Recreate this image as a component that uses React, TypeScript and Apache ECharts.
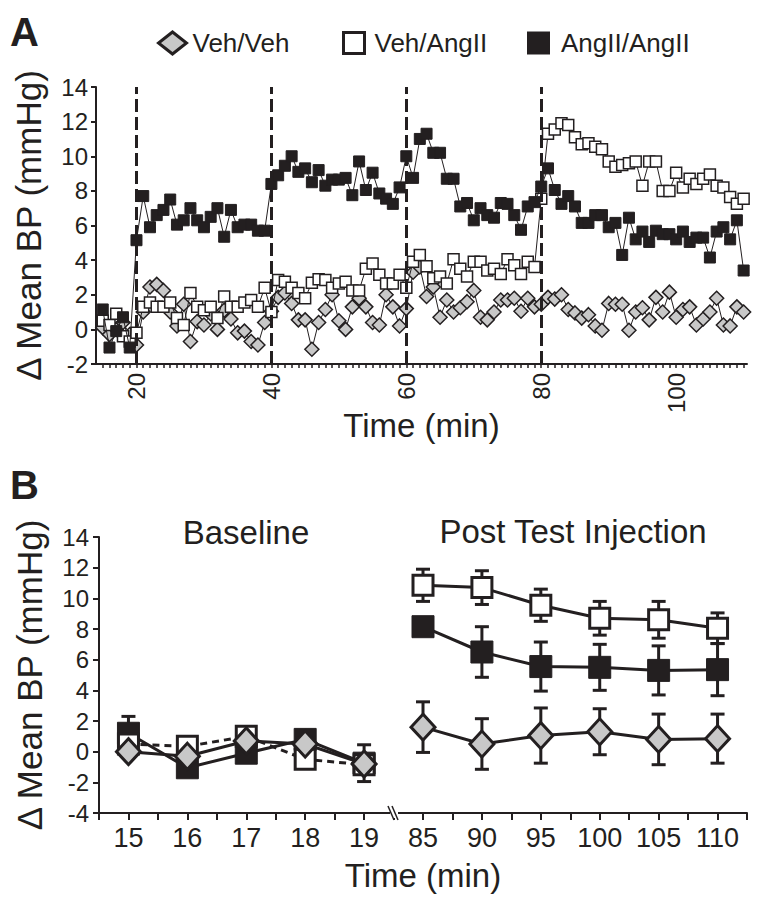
import React, { useEffect, useRef } from 'react';
import * as echarts from 'echarts';

const FONT = '"Liberation Sans", Arial, Helvetica, sans-serif';
const INK = '#231f20';
const GRAY = '#c8c8c8';

const NAME_VV = 'Veh/Veh';
const NAME_VA = 'Veh/AngII';
const NAME_AA = 'AngII/AngII';

// ---------- Panel A: one reading per minute, first reading at minute 15 ----------
const A_FIRST_MINUTE = 15;
const A_VEH_VEH = [
  0.1, -0.3, 0.0, 0.4, -0.3, -0.9, 1.0, 2.45, 2.6, 2.25,
  1.0, 0.2, 1.45, -0.7, 0.45, 0.25, 0.9, 0.0, 1.1, 0.6,
  -0.2, -0.1, -0.7, -0.9, 0.4, 1.05, 1.85, 2.1, 1.5, 0.55,
  0.55, -1.15, 0.4, 1.15, 2.0, 0.5, 0.0, 1.3, 1.8, 1.3,
  0.4, 0.25, 2.0, 1.3, 0.2, 1.2, 3.3, 3.6, 1.9, 2.45,
  0.7, 1.7, 1.0, 1.25, 1.6, 2.25, 0.7, 0.55, 1.0, 1.7,
  1.7, 1.8, 1.05, 1.8, 1.3, 1.45, 1.85, 1.75, 2.0, 1.15,
  0.95, 0.65, 0.85, 0.2, -0.05, 1.5, 1.45, 1.45, -0.05, 1.0,
  1.25, 0.55, 1.85, 1.0, 2.15, 0.7, 1.15, 1.3, 0.25, 0.6,
  1.0, 1.8, 0.25, 0.2, 1.3, 1.0,
];
const A_VEH_ANG = [
  0.5, 0.25, 0.9, -0.4, -0.7, -0.2, 1.3, 1.55, 1.3, 1.3,
  1.55, 0.65, 0.25, 2.1, 1.3, 1.1, 1.3, 0.65, 1.9, 1.3,
  1.3, 1.55, 1.7, 1.3, 2.4, 1.0, 2.85, 2.75, 2.4, 2.1,
  1.8, 2.7, 2.9, 2.85, 2.4, 2.65, 2.75, 2.25, 2.25, 3.5,
  3.8, 3.15, 2.65, 2.65, 3.15, 2.4, 3.9, 4.3, 3.65, 2.95,
  3.05, 2.65, 4.05, 3.5, 3.05, 3.9, 3.9, 3.4, 3.5, 3.2,
  4.05, 3.7, 3.2, 3.9, 3.6, 7.55, 11.3, 11.55, 11.9, 11.8,
  11.1, 10.7, 10.75, 10.55, 10.4, 9.7, 9.4, 9.5, 9.6, 9.7,
  8.3, 9.7, 9.7, 8.0, 8.0, 9.05, 8.2, 8.7, 8.4, 8.7,
  8.95, 8.3, 8.2, 7.65, 7.25, 7.55,
];
const A_ANG_ANG = [
  1.15, -1.05, -0.1, 0.7, -1.05, 5.15, 7.7, 5.9, 6.6, 6.9,
  7.5, 6.05, 6.3, 7.0, 6.3, 5.9, 6.5, 7.0, 5.35, 6.9,
  5.9, 6.05, 6.05, 5.7, 5.7, 8.4, 8.9, 9.45, 10.0, 9.1,
  9.3, 8.5, 9.2, 8.3, 8.65, 8.65, 8.75, 7.75, 9.7, 8.05,
  9.05, 7.85, 7.55, 7.25, 8.2, 10.0, 8.75, 11.0, 11.3, 10.2,
  10.2, 8.7, 8.7, 7.1, 7.3, 6.3, 7.0, 6.6, 6.45, 7.3,
  7.25, 6.6, 5.75, 7.1, 7.35, 8.25, 9.3, 8.05, 7.25, 7.7,
  7.1, 6.15, 6.15, 6.6, 6.6, 5.9, 6.15, 4.3, 6.45, 5.2,
  5.65, 5.05, 5.7, 5.5, 5.5, 5.2, 5.65, 5.05, 5.3, 5.3,
  4.15, 5.65, 5.9, 5.2, 6.3, 3.4,
];
const A_INJECTION_MINUTES = [20, 40, 60, 80];
const A_LABELLED_MINUTES = [20, 40, 60, 80, 100];

// ---------- Panel B ----------
const B_CATEGORIES = ['15', '16', '17', '18', '19', '85', '90', '95', '100', '105', '110'];
const B_POST_OFFSET = 5; // index of the first post-injection category

const B_BASE_VV = [0.0, -0.3, 0.7, 0.5, -0.8];
const B_BASE_VV_ERR = [0.3, 0.3, 0.3, 0.3, 0.3];
const B_BASE_VA = [0.5, 0.35, 1.0, -0.5, -0.85];
const B_BASE_VA_ERR = [0.3, 0.3, 0.3, 0.4, 0.3];
const B_BASE_AA = [1.2, -1.05, -0.1, 0.8, -0.75];
const B_BASE_AA_ERR = [1.1, 0.3, 0.3, 0.3, 1.2];

const B_POST_VV = [1.6, 0.5, 1.05, 1.3, 0.8, 0.85];
const B_POST_VV_ERR = [1.65, 1.65, 1.8, 1.5, 1.65, 1.6];
const B_POST_VA = [10.85, 10.7, 9.55, 8.7, 8.6, 8.05];
const B_POST_VA_ERR = [1.05, 1.1, 1.05, 1.1, 1.2, 1.0];
const B_POST_AA = [8.15, 6.5, 5.55, 5.5, 5.3, 5.35];
const B_POST_AA_ERR = [0.4, 1.65, 1.6, 1.5, 1.6, 1.7];

const toMinutePairs = (vals: number[]) => vals.map((v, i) => [A_FIRST_MINUTE + i, v]);
const toIndexPairs = (vals: number[], off: number) => vals.map((v, i) => [i + off, v]);
const toErr = (vals: number[], errs: number[], off: number) =>
  vals.map((v, i) => [i + off, v - errs[i], v + errs[i]]);

const axisText = (size: number) => ({ color: INK, fontFamily: FONT, fontSize: size });

export default function App() {
  const ref = useRef<HTMLDivElement>(null);

  useEffect(() => {
    if (!ref.current) return;
    const chart = echarts.init(ref.current, undefined, { renderer: 'svg' });

    const styleVV = { color: GRAY, borderColor: INK, borderWidth: 1.5 };
    const styleVA = { color: '#ffffff', borderColor: INK, borderWidth: 1.5 };
    const styleAA = { color: INK, borderColor: INK, borderWidth: 1 };

    const aLine = (name: string, data: number[], symbol: string, size: number, itemStyle: any, z: number) => ({
      name,
      type: 'line',
      xAxisIndex: 0,
      yAxisIndex: 0,
      data: toMinutePairs(data),
      symbol,
      symbolSize: size,
      showSymbol: true,
      lineStyle: { color: INK, width: 1 },
      itemStyle,
      z,
      emphasis: { disabled: true },
    });

    const bLine = (
      name: string,
      data: number[],
      off: number,
      symbol: string,
      size: any,
      itemStyle: any,
      dashed: boolean,
      z: number
    ) => ({
      name,
      type: 'line',
      xAxisIndex: 1,
      yAxisIndex: 1,
      data: toIndexPairs(data, off),
      symbol,
      symbolSize: size,
      lineStyle: { color: INK, width: 3, type: dashed ? [7, 5] : 'solid' },
      itemStyle,
      z,
      emphasis: { disabled: true },
    });

    const errData = [
      ...toErr(B_BASE_VV, B_BASE_VV_ERR, 0),
      ...toErr(B_BASE_VA, B_BASE_VA_ERR, 0),
      ...toErr(B_BASE_AA, B_BASE_AA_ERR, 0),
      ...toErr(B_POST_VV, B_POST_VV_ERR, B_POST_OFFSET),
      ...toErr(B_POST_VA, B_POST_VA_ERR, B_POST_OFFSET),
      ...toErr(B_POST_AA, B_POST_AA_ERR, B_POST_OFFSET),
    ];

    const bStyleVV = { color: GRAY, borderColor: INK, borderWidth: 3 };
    const bStyleVA = { color: '#ffffff', borderColor: INK, borderWidth: 3 };
    const bStyleAA = { color: INK, borderColor: INK, borderWidth: 1 };

    const legendBase = (left: number, name: string, icon: string, w: number, h: number, itemStyle: any, padLeft: number) => ({
      left,
      top: 25,
      orient: 'horizontal',
      selectedMode: false,
      itemWidth: w,
      itemHeight: h,
      data: [{ name, icon }],
      itemStyle,
      textStyle: { color: INK, fontFamily: FONT, fontSize: 26, padding: [0, 0, 0, padLeft] },
    });

    const axisLineStyle = { show: true, onZero: false, lineStyle: { color: INK, width: 2 } };

    const option: any = {
      animation: false,
      backgroundColor: '#ffffff',
      legend: [
        legendBase(152, NAME_VV, 'diamond', 28, 22, { color: GRAY, borderColor: INK, borderWidth: 3 }, 1),
        legendBase(337, NAME_VA, 'rect', 21, 21, { color: '#ffffff', borderColor: INK, borderWidth: 3 }, 5),
        legendBase(522, NAME_AA, 'rect', 23, 23, { color: INK, borderColor: INK, borderWidth: 0 }, 6),
      ],
      grid: [
        { left: 96, top: 87, width: 651, height: 277 },
        { left: 99, top: 537, width: 648, height: 276 },
      ],
      xAxis: [
        {
          type: 'value',
          gridIndex: 0,
          min: 14,
          max: 110.5,
          interval: 1,
          splitLine: { show: false },
          axisLine: axisLineStyle,
          axisTick: { show: true, length: 4, lineStyle: { color: INK, width: 1.5 } },
          axisLabel: {
            ...axisText(24),
            rotate: 90,
            margin: 9,
            showMinLabel: false,
            showMaxLabel: false,
            formatter: (v: number) => (A_LABELLED_MINUTES.includes(v) ? String(v) : ''),
          },
          name: 'Time (min)',
          nameLocation: 'middle',
          nameGap: 45,
          nameMoveOverlap: false,
          nameTextStyle: axisText(33),
        },
        {
          type: 'value',
          gridIndex: 1,
          min: -0.5,
          max: 10.5,
          interval: 0.5,
          splitLine: { show: false },
          axisLine: axisLineStyle,
          axisTick: { show: true, length: 7, lineStyle: { color: INK, width: 2 } },
          axisLabel: {
            ...axisText(27),
            margin: 11,
            formatter: (v: number) => {
              const i = Math.round(v * 2) / 2;
              return Number.isInteger(i) && i >= 0 && i < B_CATEGORIES.length ? B_CATEGORIES[i] : '';
            },
          },
          name: 'Time (min)',
          nameLocation: 'middle',
          nameGap: 46,
          nameMoveOverlap: false,
          nameTextStyle: axisText(33),
        },
      ],
      yAxis: [
        {
          type: 'value',
          gridIndex: 0,
          min: -2,
          max: 14,
          interval: 2,
          splitLine: { show: false },
          axisLine: axisLineStyle,
          axisTick: { show: true, length: 5, lineStyle: { color: INK, width: 2 } },
          axisLabel: { ...axisText(24), margin: 8 },
          name: 'Δ Mean BP (mmHg)',
          nameLocation: 'middle',
          nameGap: 50,
          nameMoveOverlap: false,
          nameTextStyle: axisText(35),
        },
        {
          type: 'value',
          gridIndex: 1,
          min: -4,
          max: 14,
          interval: 2,
          splitLine: { show: false },
          axisLine: axisLineStyle,
          axisTick: { show: true, length: 6, lineStyle: { color: INK, width: 2 } },
          axisLabel: { ...axisText(24), margin: 10 },
          name: 'Δ Mean BP (mmHg)',
          nameLocation: 'middle',
          nameGap: 52,
          nameMoveOverlap: false,
          nameTextStyle: axisText(35),
        },
      ],
      series: [
        {
          name: 'injections',
          type: 'line',
          xAxisIndex: 0,
          yAxisIndex: 0,
          data: [],
          z: 1,
          markLine: {
            silent: true,
            symbol: ['none', 'none'],
            label: { show: false },
            lineStyle: { color: INK, width: 3, type: [13, 5] },
            emphasis: { disabled: true },
            data: A_INJECTION_MINUTES.map((m) => ({ xAxis: m })),
          },
        },
        aLine(NAME_VV, A_VEH_VEH, 'diamond', 14, styleVV, 2),
        aLine(NAME_VA, A_VEH_ANG, 'rect', 11, styleVA, 3),
        aLine(NAME_AA, A_ANG_ANG, 'rect', 11, styleAA, 4),
        {
          name: 'break',
          type: 'line',
          xAxisIndex: 1,
          yAxisIndex: 1,
          data: [],
          z: 1,
          markLine: {
            silent: true,
            symbol: ['none', 'none'],
            label: { show: false },
            lineStyle: { color: INK, width: 2, type: [14, 6] },
            emphasis: { disabled: true },
            data: [[{ coord: [4.5, 14.1] }, { coord: [4.5, -3.4] }]],
          },
        },
        {
          name: 'sem',
          type: 'custom',
          xAxisIndex: 1,
          yAxisIndex: 1,
          z: 2,
          silent: true,
          data: errData,
          encode: { x: 0, y: [1, 2] },
          renderItem: (params: any, api: any) => {
            const x = api.value(0);
            const top = api.coord([x, api.value(2)]);
            const bot = api.coord([x, api.value(1)]);
            const w = 7;
            const st = { stroke: INK, lineWidth: 3 };
            return {
              type: 'group',
              children: [
                { type: 'line', shape: { x1: top[0], y1: top[1], x2: bot[0], y2: bot[1] }, style: st },
                { type: 'line', shape: { x1: top[0] - w, y1: top[1], x2: top[0] + w, y2: top[1] }, style: st },
                { type: 'line', shape: { x1: bot[0] - w, y1: bot[1], x2: bot[0] + w, y2: bot[1] }, style: st },
              ],
            };
          },
        },
        bLine(NAME_AA, B_BASE_AA, 0, 'rect', 22, bStyleAA, false, 3),
        bLine(NAME_VA, B_BASE_VA, 0, 'rect', 20, bStyleVA, true, 4),
        bLine(NAME_VV, B_BASE_VV, 0, 'diamond', [24, 26], bStyleVV, false, 5),
        bLine(NAME_VV, B_POST_VV, B_POST_OFFSET, 'diamond', [24, 26], bStyleVV, false, 3),
        bLine(NAME_AA, B_POST_AA, B_POST_OFFSET, 'rect', 22, bStyleAA, false, 4),
        bLine(NAME_VA, B_POST_VA, B_POST_OFFSET, 'rect', 20, bStyleVA, false, 5),
      ],
      graphic: [
        {
          type: 'text',
          left: 10,
          top: 12,
          style: { text: 'A', font: `bold 40px ${FONT}`, fill: INK },
        },
        {
          type: 'text',
          left: 10,
          top: 465,
          style: { text: 'B', font: `bold 40px ${FONT}`, fill: INK },
        },
        {
          type: 'text',
          x: 246,
          y: 532,
          style: { text: 'Baseline', font: `33px ${FONT}`, fill: INK, align: 'center', verticalAlign: 'middle' },
        },
        {
          type: 'text',
          x: 573,
          y: 531,
          style: { text: 'Post Test Injection', font: `33px ${FONT}`, fill: INK, align: 'center', verticalAlign: 'middle' },
        },
        {
          type: 'rect',
          shape: { x: 390, y: 808, width: 8, height: 10 },
          style: { fill: '#ffffff' },
          z: 100,
        },
        {
          type: 'line',
          shape: { x1: 388, y1: 806, x2: 394, y2: 820 },
          style: { stroke: INK, lineWidth: 1.5 },
          z: 101,
        },
        {
          type: 'line',
          shape: { x1: 392, y1: 806, x2: 398, y2: 820 },
          style: { stroke: INK, lineWidth: 1.5 },
          z: 101,
        },
      ],
    };

    chart.setOption(option);
    return () => chart.dispose();
  }, []);

  return (
    <div
      ref={ref}
      style={{ position: 'absolute', left: 0, top: 0, width: 762, height: 908, background: '#fff' }}
    />
  );
}
